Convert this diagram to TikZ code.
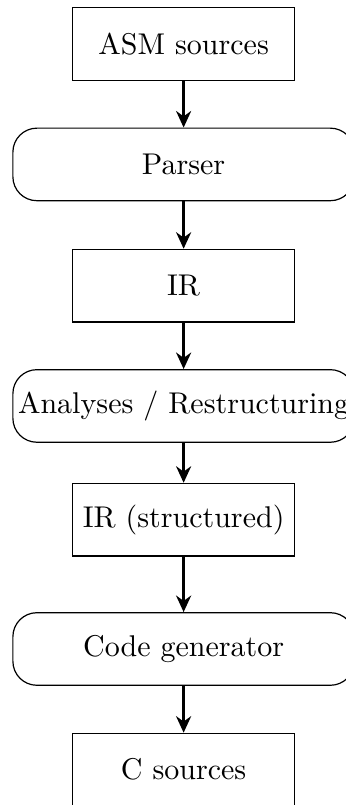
\documentclass[tikz,border=0pt]{standalone}
\usetikzlibrary{arrows.meta}

\begin{document}
\begin{tikzpicture}[every node/.style={draw,minimum height=0.85cm},
  databox/.style={rectangle,minimum width=74pt},
  passbox/.style={rectangle,rounded corners=8pt,minimum width=4cm},
  flow/.style={-{Stealth[length=5.5pt,width=5pt]},line width=1pt}]
\useasboundingbox (0,0) rectangle (115pt,-268.3pt);
\node[databox] (asm)  at (61.2pt,-14.7pt)  {ASM sources};
\node[passbox] (parse) at (61.2pt,-54.8pt)  {Parser};
\node[databox] (ir)   at (61.2pt,-95.2pt)  {IR};
\node[passbox] (ana)  at (61.2pt,-135.3pt) {\makebox[100pt]{Analyses / Restructuring}};
\node[databox] (irs)  at (61.2pt,-173.2pt) {IR (structured)};
\node[passbox] (gen)  at (61.2pt,-216.3pt) {Code generator};
\node[databox] (csrc) at (61.2pt,-256.5pt) {C sources};
\draw[flow] (asm) -- (parse);
\draw[flow] (parse) -- (ir);
\draw[flow] (ir) -- (ana);
\draw[flow] (ana) -- (irs);
\draw[flow] (irs) -- (gen);
\draw[flow] (gen) -- (csrc);
\end{tikzpicture}
\end{document}
